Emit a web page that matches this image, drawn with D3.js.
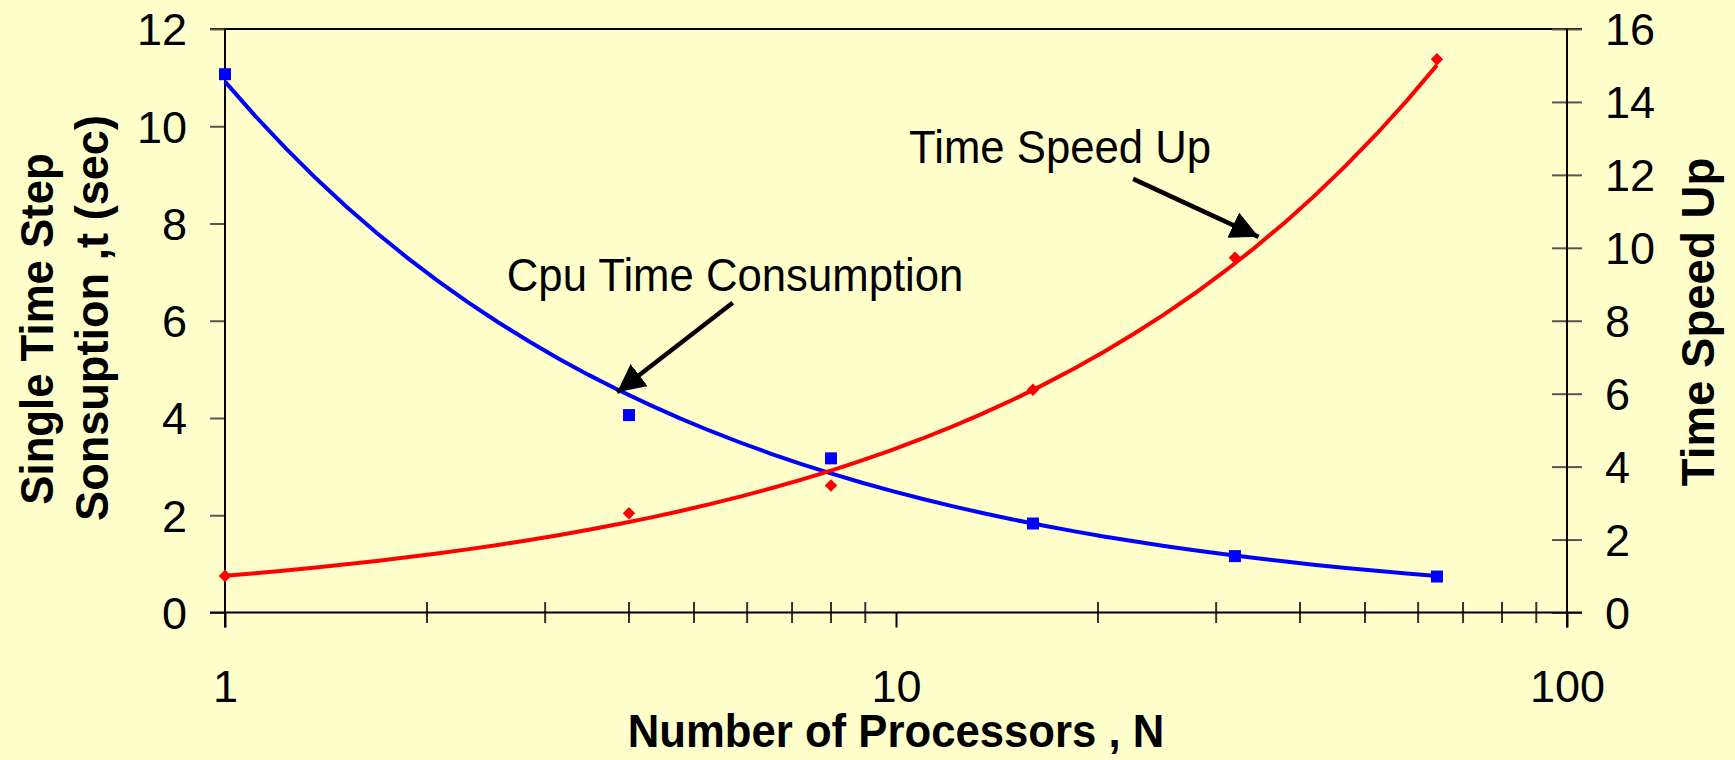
<!DOCTYPE html>
<html>
<head>
<meta charset="utf-8">
<script src="https://cdn.jsdelivr.net/npm/d3@7"></script>
<style>
  html, body { margin: 0; padding: 0; background: #FFFFCC; }
  svg { display: block; }
  text { font-family: "Liberation Sans", Arial, Helvetica, sans-serif; fill: #000; }
</style>
</head>
<body>
<svg id="chart" width="1735" height="760"></svg>
<script>
// Measured data: number of processors vs. per-step CPU time and speed-up
const processors = [1, 4, 8, 16, 32, 64];
const cpuTime = [11.07, 4.06, 3.17, 1.83, 1.16, 0.74];   // seconds (left axis)
const speedUp = [1.0, 2.72, 3.48, 6.11, 9.73, 15.17];    // ratio (right axis)

// Axis tick values
const xMajorTicks = [1, 10, 100];
const xMinorTicks = [2, 3, 4, 5, 6, 7, 8, 9, 20, 30, 40, 50, 60, 70, 80, 90];
const leftTicks = [0, 2, 4, 6, 8, 10, 12];
const rightTicks = [0, 2, 4, 6, 8, 10, 12, 14, 16];

// Axis titles
const xTitle = "Number of Processors , N";
const leftTitleLines = ["Single Time Step", "Sonsuption ,t (sec)"];
const rightTitle = "Time Speed Up";

// Callout labels with arrows (data coordinates)
const callouts = [
  { text: "Cpu Time Consumption", axis: "left",  tx: 2.63, ty: 6.61, from: [5.71, 6.37], to: [3.84, 4.53] },
  { text: "Time Speed Up",        axis: "right", tx: 10.46, ty: 12.33, from: [22.56, 11.89], to: [34.7, 10.30] }
];

const svg = d3.select("#chart");
const W = 1735, H = 760;
const plot = { left: 225, right: 1567, top: 29, bottom: 612.5 };

const x = d3.scaleLog().domain([1, 100]).range([plot.left, plot.right]);
const yL = d3.scaleLinear().domain([0, 12]).range([plot.bottom, plot.top]);
const yR = d3.scaleLinear().domain([0, 16]).range([plot.bottom, plot.top]);

svg.append("rect").attr("width", W).attr("height", H).attr("fill", "#FFFFCC");

// Least-squares power fit y = a * x^b (done in log-log space)
function powerFit(xs, ys) {
  const lx = xs.map(Math.log), ly = ys.map(Math.log);
  const mx = d3.mean(lx), my = d3.mean(ly);
  let sxy = 0, sxx = 0;
  lx.forEach((v, i) => { sxy += (v - mx) * (ly[i] - my); sxx += (v - mx) * (v - mx); });
  const b = sxy / sxx;
  const a = Math.exp(my - b * mx);
  return n => a * Math.pow(n, b);
}

const nMin = d3.min(processors), nMax = d3.max(processors);
const samples = d3.range(0, 41).map(i => Math.pow(10, Math.log10(nMin) + i / 40 * (Math.log10(nMax) - Math.log10(nMin))));

const cpuFit = powerFit(processors, cpuTime);
const speedFit = powerFit(processors, speedUp);

// Plot frame: top border line
svg.append("line")
  .attr("x1", plot.left - 15).attr("x2", plot.right + 15)
  .attr("y1", plot.top).attr("y2", plot.top)
  .attr("stroke", "#000").attr("stroke-width", 2);

// Left axis
const leftAxis = svg.append("g").attr("transform", `translate(${plot.left},0)`)
  .call(d3.axisLeft(yL).tickValues(leftTicks).tickSize(15).tickPadding(23).tickFormat(d3.format("d")));
leftAxis.select(".domain").remove();
leftAxis.selectAll(".tick line").attr("stroke", "#555").attr("stroke-width", 2);
leftAxis.selectAll(".tick text").attr("font-size", 45).attr("dy", "0.35em")
  .style("font-family", '"Liberation Sans", Arial, sans-serif').attr("fill", "#000");

// Right axis (ticks cross the axis line)
const rightAxis = svg.append("g").attr("transform", `translate(${plot.right},0)`)
  .call(d3.axisRight(yR).tickValues(rightTicks).tickSizeInner(15).tickSizeOuter(0).tickPadding(23).tickFormat(d3.format("d")));
rightAxis.select(".domain").remove();
rightAxis.selectAll(".tick line").attr("x1", -15).attr("x2", 15).attr("stroke", "#555").attr("stroke-width", 2);
rightAxis.selectAll(".tick text").attr("x", 38).attr("font-size", 45).attr("dy", "0.35em")
  .style("font-family", '"Liberation Sans", Arial, sans-serif').attr("fill", "#000");

// Bottom axis: major ticks outside, minor ticks crossing
const bottomAxis = svg.append("g").attr("transform", `translate(0,${plot.bottom})`)
  .call(d3.axisBottom(x).tickValues(xMajorTicks).tickSize(15).tickPadding(43).tickFormat(d3.format("d")));
bottomAxis.select(".domain").remove();
bottomAxis.selectAll(".tick line").attr("stroke", "#000").attr("stroke-width", 2);
bottomAxis.selectAll(".tick text").attr("font-size", 45)
  .style("font-family", '"Liberation Sans", Arial, sans-serif').attr("fill", "#000");

svg.append("g").selectAll("line").data(xMinorTicks).join("line")
  .attr("x1", d => x(d)).attr("x2", d => x(d))
  .attr("y1", plot.bottom - 10.5).attr("y2", plot.bottom + 10.5)
  .attr("stroke", "#333").attr("stroke-width", 2);

// Axis lines
svg.append("line").attr("x1", plot.left).attr("x2", plot.left)
  .attr("y1", plot.top).attr("y2", plot.bottom + 15).attr("stroke", "#000").attr("stroke-width", 2);
svg.append("line").attr("x1", plot.right).attr("x2", plot.right)
  .attr("y1", plot.top).attr("y2", plot.bottom + 15).attr("stroke", "#000").attr("stroke-width", 2);
svg.append("line").attr("x1", plot.left - 15).attr("x2", plot.right + 15)
  .attr("y1", plot.bottom).attr("y2", plot.bottom).attr("stroke", "#000").attr("stroke-width", 2);

// Trend curves
svg.append("path")
  .datum(samples)
  .attr("fill", "none").attr("stroke", "#0000FF").attr("stroke-width", 4)
  .attr("d", d3.line().x(n => x(n)).y(n => yL(cpuFit(n))));

svg.append("path")
  .datum(samples)
  .attr("fill", "none").attr("stroke", "#FF0000").attr("stroke-width", 4)
  .attr("d", d3.line().x(n => x(n)).y(n => yR(speedFit(n))));

// Markers: blue squares (CPU time), red diamonds (speed-up)
svg.append("g").selectAll("rect").data(processors).join("rect")
  .attr("x", (n) => x(n) - 6).attr("y", (n, i) => yL(cpuTime[i]) - 6)
  .attr("width", 12).attr("height", 12).attr("fill", "#0000FF");

const diamond = d3.symbol().type(d3.symbolDiamond2).size(100);
svg.append("g").selectAll("path").data(processors).join("path")
  .attr("transform", (n, i) => `translate(${x(n)},${yR(speedUp[i])})`)
  .attr("d", diamond).attr("fill", "#FF0000");

// Text helper: slightly condensed glyphs
function addText(px, py, str, opts) {
  const o = Object.assign({ size: 47, weight: "normal", anchor: "start", rotate: 0, sx: 0.93 }, opts || {});
  svg.append("text")
    .attr("transform", `translate(${px},${py}) rotate(${o.rotate}) scale(${o.sx},1)`)
    .attr("font-size", o.size).attr("font-weight", o.weight)
    .attr("text-anchor", o.anchor)
    .text(str);
}

// Callouts with arrows
svg.append("defs").append("marker")
  .attr("id", "arrowHead")
  .attr("viewBox", "0 0 10 10").attr("refX", 10).attr("refY", 5)
  .attr("markerWidth", 6.2).attr("markerHeight", 6.2)
  .attr("markerUnits", "strokeWidth").attr("orient", "auto")
  .append("path").attr("d", "M0,0 L10,5 L0,10 Z").attr("fill", "#000");

callouts.forEach(c => {
  const ys = c.axis === "left" ? yL : yR;
  addText(x(c.tx), ys(c.ty), c.text, { size: 47, sx: 0.93 });
  svg.append("line")
    .attr("x1", x(c.from[0])).attr("y1", ys(c.from[1]))
    .attr("x2", x(c.to[0])).attr("y2", ys(c.to[1]))
    .attr("stroke", "#000").attr("stroke-width", 4.5)
    .attr("marker-end", "url(#arrowHead)");
});

// Axis titles
addText((plot.left + plot.right) / 2, 747, xTitle, { size: 46, weight: "bold", anchor: "middle", sx: 0.95 });
addText(53, 329, leftTitleLines[0], { weight: "bold", anchor: "middle", rotate: -90, sx: 0.93 });
addText(108, 318, leftTitleLines[1], { weight: "bold", anchor: "middle", rotate: -90, sx: 0.96 });
addText(1714, 322, rightTitle, { weight: "bold", anchor: "middle", rotate: -90, sx: 0.97 });
</script>
</body>
</html>
